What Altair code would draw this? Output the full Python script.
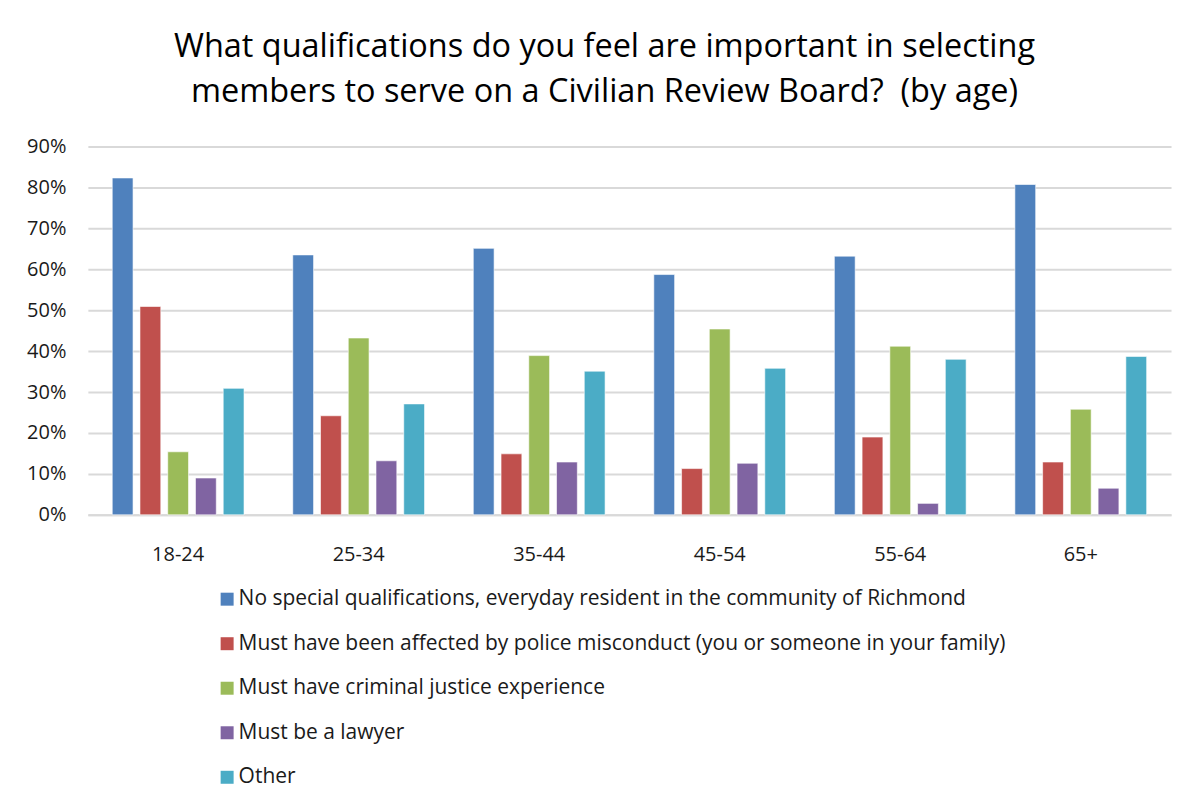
import altair as alt
import pandas as pd

ages = ["18-24", "25-34", "35-44", "45-54", "55-64", "65+"]
series = [
    "No special qualifications, everyday resident in the community of Richmond",
    "Must have been affected by police misconduct (you or someone in your family)",
    "Must have criminal justice experience",
    "Must be a lawyer",
    "Other",
]
no_special = [0.823, 0.635, 0.651, 0.587, 0.632, 0.807]
affected = [0.509, 0.242, 0.149, 0.113, 0.190, 0.129]
criminal = [0.154, 0.432, 0.389, 0.454, 0.412, 0.258]
lawyer = [0.090, 0.132, 0.129, 0.126, 0.028, 0.065]
other = [0.309, 0.271, 0.351, 0.358, 0.380, 0.387]
colors = ["#4F81BD", "#C0504D", "#9BBB59", "#8064A2", "#4BACC6"]
y_ticks = [0, 0.1, 0.2, 0.3, 0.4, 0.5, 0.6, 0.7, 0.8, 0.9]
title_lines = [
    "What qualifications do you feel are important in selecting",
    "members to serve on a Civilian Review Board?\u00a0 (by age)",
]

rows = []
for s, vals in zip(series, [no_special, affected, criminal, lawyer, other]):
    for a, v in zip(ages, vals):
        rows.append({"age": a, "series": s, "value": v})
df = pd.DataFrame(rows)

FONT = "Open Sans"
TXT = "#1a1a1a"

chart = alt.Chart(df).mark_bar(
    stroke="#ffffff", strokeWidth=1, strokeOpacity=0.6
).encode(
    x=alt.X(
        "age:N",
        sort=ages,
        scale=alt.Scale(paddingInner=0.27, paddingOuter=0.135),
        axis=alt.Axis(
            title=None, labelAngle=0, ticks=False, domainColor="#d9d9d9",
            domainWidth=2, labelFontSize=20, labelPadding=30, labelColor=TXT,
        ),
    ),
    xOffset=alt.XOffset(
        "series:N", sort=series,
        scale=alt.Scale(paddingInner=0.25, paddingOuter=0),
    ),
    y=alt.Y(
        "value:Q",
        scale=alt.Scale(domain=[0, 0.9]),
        axis=alt.Axis(
            format=".0%", values=y_ticks, title=None, domain=False, ticks=False,
            gridColor="#d9d9d9", gridWidth=2, labelPadding=22, labelFontSize=20,
            labelColor=TXT,
        ),
    ),
    color=alt.Color(
        "series:N",
        sort=series,
        scale=alt.Scale(domain=series, range=colors),
        legend=alt.Legend(
            title=None, orient="none", legendX=129, legendY=443,
            direction="vertical", symbolType="square", symbolSize=169,
            symbolStrokeWidth=0, labelFontSize=21, rowPadding=22.6,
            labelOffset=1, labelLimit=1000, labelColor=TXT,
        ),
    ),
).properties(
    width=1085,
    height=369,
    title=alt.TitleParams(
        text=title_lines, fontSize=32.5, fontWeight="normal", color="#000000",
        anchor="middle", lineHeight=45, offset=28, dx=-25,
    ),
    padding={"left": 80, "top": 138, "right": 20, "bottom": 300},
    autosize="none",
).configure(font=FONT).configure_view(stroke=None)

chart.save("out.html", embed_options={"renderer": "svg", "actions": False})
